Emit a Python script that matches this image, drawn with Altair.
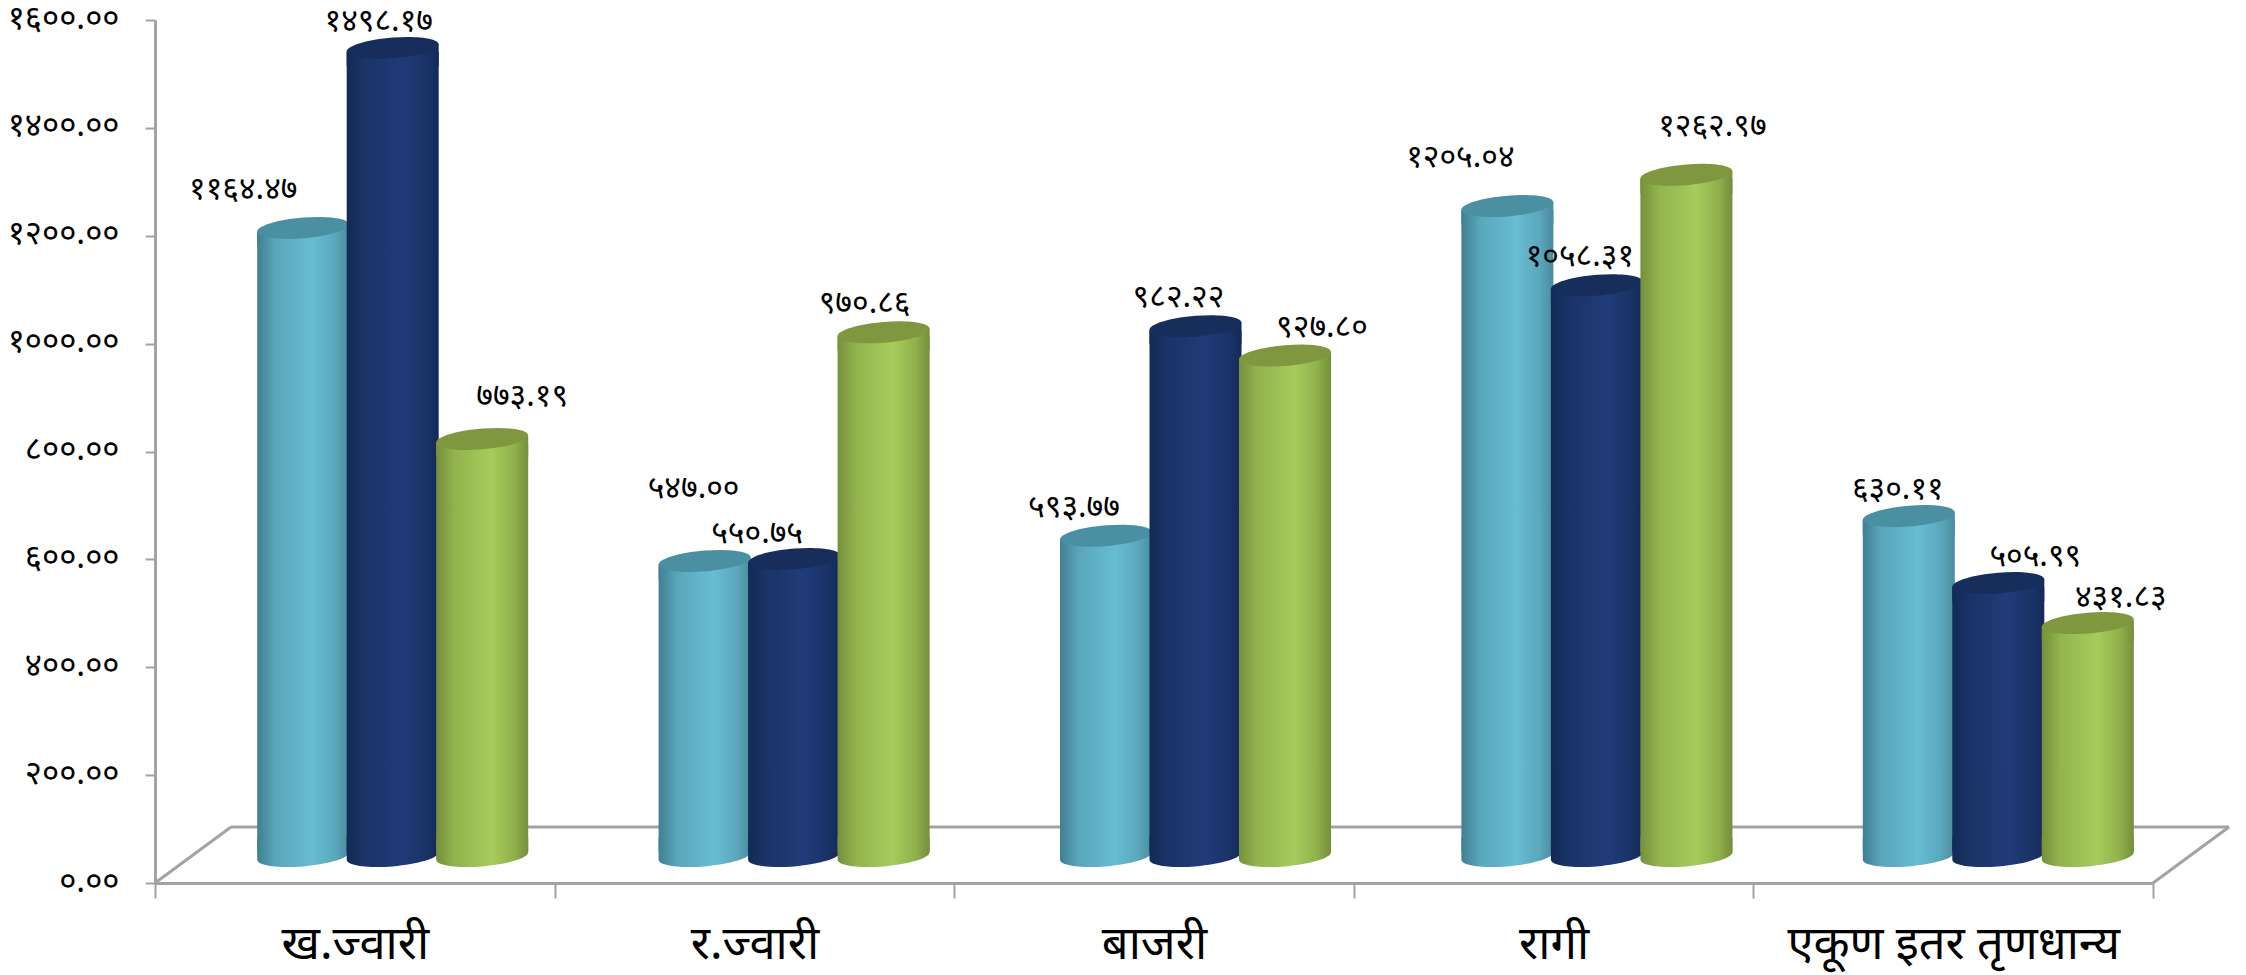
import altair as alt
import pandas as pd

categories = ["ख.ज्वारी", "र.ज्वारी", "बाजरी", "रागी", "एकूण इतर तृणधान्य"]
series_a = [1164.47, 547.00, 593.77, 1205.04, 630.11]
series_b = [1498.17, 550.75, 982.22, 1058.31, 505.99]
series_c = [773.19, 970.86, 927.80, 1262.97, 431.83]
labels_a = ["११६४.४७", "५४७.००", "५९३.७७", "१२०५.०४", "६३०.११"]
labels_b = ["१४९८.१७", "५५०.७५", "९८२.२२", "१०५८.३१", "५०५.९९"]
labels_c = ["७७३.१९", "९७०.८६", "९२७.८०", "१२६२.९७", "४३१.८३"]
y_ticks = [0, 200, 400, 600, 800, 1000, 1200, 1400, 1600]
y_tick_labels = ["०.००", "२००.००", "४००.००", "६००.००", "८००.००", "१०००.००", "१२००.००", "१४००.००", "१६००.००"]

# label nudges in pixels, per series then category
shift_a = [(-60, -39), (-11, -73), (-32, -29), (-47, -49), (-11, -27)]
shift_b = [(-14, -27), (-37, -26), (-17, -29), (-17, -29), (37, -27)]
shift_c = [(40, -43), (-19, -29), (37, -29), (26, -49), (33, -26)]

FONT = "Noto Sans Devanagari, Noto Sans, Lohit Devanagari, FreeSans, sans-serif"
AXIS = "#a3a3a3"
W, H = 1998, 863
DEPTH_X, DEPTH_Y = 76, 56
BASE_LIFT = 27      # cylinders stand this far behind the front edge of the floor
CENTER_SHIFT = 37
STEP = 89.5
BAR_W = 92

k = 0.5523
a_, s_ = 0.226, 0.08
edge = s_ * BAR_W / 2 + 0.5


def m(u, v):
    return f"{u:.4f},{a_ * v - s_ * u:.4f}"


cap_path = (
    f"M{m(-1, 0)} C{m(-1, k)} {m(-k, 1)} {m(0, 1)} C{m(k, 1)} {m(1, k)} {m(1, 0)} "
    f"C{m(1, -k)} {m(k, -1)} {m(0, -1)} C{m(-k, -1)} {m(-1, -k)} {m(-1, 0)} Z"
)
skirt_path = f"M-1,{s_} L-1,0.4 L1,0.4 L1,{-s_} Z"
bottom_path = (
    f"M-1,-0.4 L1,-0.4 L{m(1, 0)} C{m(1, k)} {m(k, 1)} {m(0, 1)} "
    f"C{m(-k, 1)} {m(-1, k)} {m(-1, 0)} Z"
)


def grad(stops):
    return alt.Gradient(
        gradient="linear", x1=0, x2=1, y1=0, y2=0,
        stops=[alt.GradientStop(offset=o, color=c) for o, c in stops],
    )


styles = [
    (series_a, labels_a, shift_a, -1, "#4b8fa2",
     grad([(0, "#3f7f93"), (0.2, "#5aa6ba"), (0.6, "#67bdd3"), (0.85, "#5ba7bc"), (1, "#4b8b9e")])),
    (series_b, labels_b, shift_b, 0, "#172d5c",
     grad([(0, "#142a55"), (0.2, "#1a3467"), (0.6, "#203b79"), (0.85, "#1a3467"), (1, "#14295a")])),
    (series_c, labels_c, shift_c, 1, "#7f983f",
     grad([(0, "#75903c"), (0.2, "#93b34e"), (0.6, "#a7cb5b"), (0.85, "#90b04c"), (1, "#748e3b")])),
]

x_axis_enc = alt.X(
    "cat:N", sort=categories,
    scale=alt.Scale(domain=categories, paddingInner=0, paddingOuter=0),
    axis=alt.Axis(
        title=None, labelAngle=0, labelFont=FONT, labelFontSize=47, labelColor="#000000",
        labelPadding=23, labelLimit=700, tickBand="extent", tickSize=15, tickWidth=2,
        tickColor=AXIS, domainColor=AXIS, domainWidth=3,
    ),
)
# the cylinders sit on the receding floor, so their bands are a touch wider than the axis bands
x_enc = alt.X(
    "cat:N", sort=categories,
    scale=alt.Scale(domain=categories, paddingInner=0, paddingOuter=0, range=[0, W + 9]),
    axis=None,
)
y_enc = alt.Y(
    "value:Q", scale=alt.Scale(domain=[0, 1600], nice=False),
    axis=alt.Axis(
        title=None, values=y_ticks, grid=False, labelFont=FONT, labelFontSize=33,
        labelColor="#000000", labelPadding=26, tickSize=10, tickWidth=2, tickColor=AXIS,
        domainColor=AXIS, domainWidth=3, labelOffset=-2,
        labelExpr="{" + ",".join(f"'{t}':'{l}'" for t, l in zip(y_ticks, y_tick_labels)) + "}[datum.value]",
    ),
)

base_df = pd.DataFrame({"cat": categories, "value": [0] * 5})

axis_layer = alt.Chart(base_df).mark_point(opacity=0).encode(x=x_axis_enc, y=y_enc)

floor = [
    alt.Chart(base_df.head(1)).mark_rule(color=AXIS, strokeWidth=3).encode(
        x=alt.value(x0), x2=alt.value(x1), y=alt.value(y0), y2=alt.value(y1)
    )
    for x0, x1, y0, y1 in [
        (0, DEPTH_X, H, H - DEPTH_Y),
        (DEPTH_X, W + DEPTH_X, H - DEPTH_Y, H - DEPTH_Y),
        (W, W + DEPTH_X, H, H - DEPTH_Y),
    ]
]

layers = [axis_layer] + floor
text_layers = []
for values, labels, shifts, idx, cap_color, body_grad in styles:
    df = pd.DataFrame({"cat": categories, "value": values, "label": labels, "zero": [0] * 5})
    off = CENTER_SHIFT + idx * STEP
    base = alt.Chart(df).encode(x=x_enc)
    body = base.mark_bar(
        width=BAR_W, fill=body_grad, xOffset=off, yOffset=-BASE_LIFT + edge, y2Offset=-BASE_LIFT - edge
    ).encode(y=y_enc, y2="zero:Q")
    bottom = base.mark_point(
        shape=bottom_path, size=BAR_W**2, filled=True, fill=body_grad, opacity=1, strokeWidth=0,
        xOffset=off, yOffset=-BASE_LIFT,
    ).encode(y=alt.Y("zero:Q"))
    skirt = base.mark_point(
        shape=skirt_path, size=BAR_W**2, filled=True, fill=body_grad, opacity=1, strokeWidth=0,
        xOffset=off, yOffset=-BASE_LIFT,
    ).encode(y=y_enc)
    cap = base.mark_point(
        shape=cap_path, size=BAR_W**2, filled=True, fill=cap_color, opacity=1, strokeWidth=0,
        xOffset=off, yOffset=-BASE_LIFT,
    ).encode(y=y_enc)
    layers += [bottom, body, skirt, cap]
    for i, (dx, dy) in enumerate(shifts):
        text_layers.append(
            alt.Chart(df.iloc[[i]]).mark_text(
                font=FONT, fontSize=32, color="#000000",
                dx=off + dx, dy=dy - BASE_LIFT,
            ).encode(x=x_enc, y=y_enc, text="label:N")
        )

chart = alt.layer(*layers, *text_layers).resolve_scale(x="independent").properties(
    width=W, height=H,
    padding={"left": 147, "top": 12, "right": 85, "bottom": 92},
    autosize=alt.AutoSizeParams(type="none"),
    background="white",
).configure_view(stroke=None)

chart.save("out.html", embed_options={"renderer": "svg", "actions": False})
